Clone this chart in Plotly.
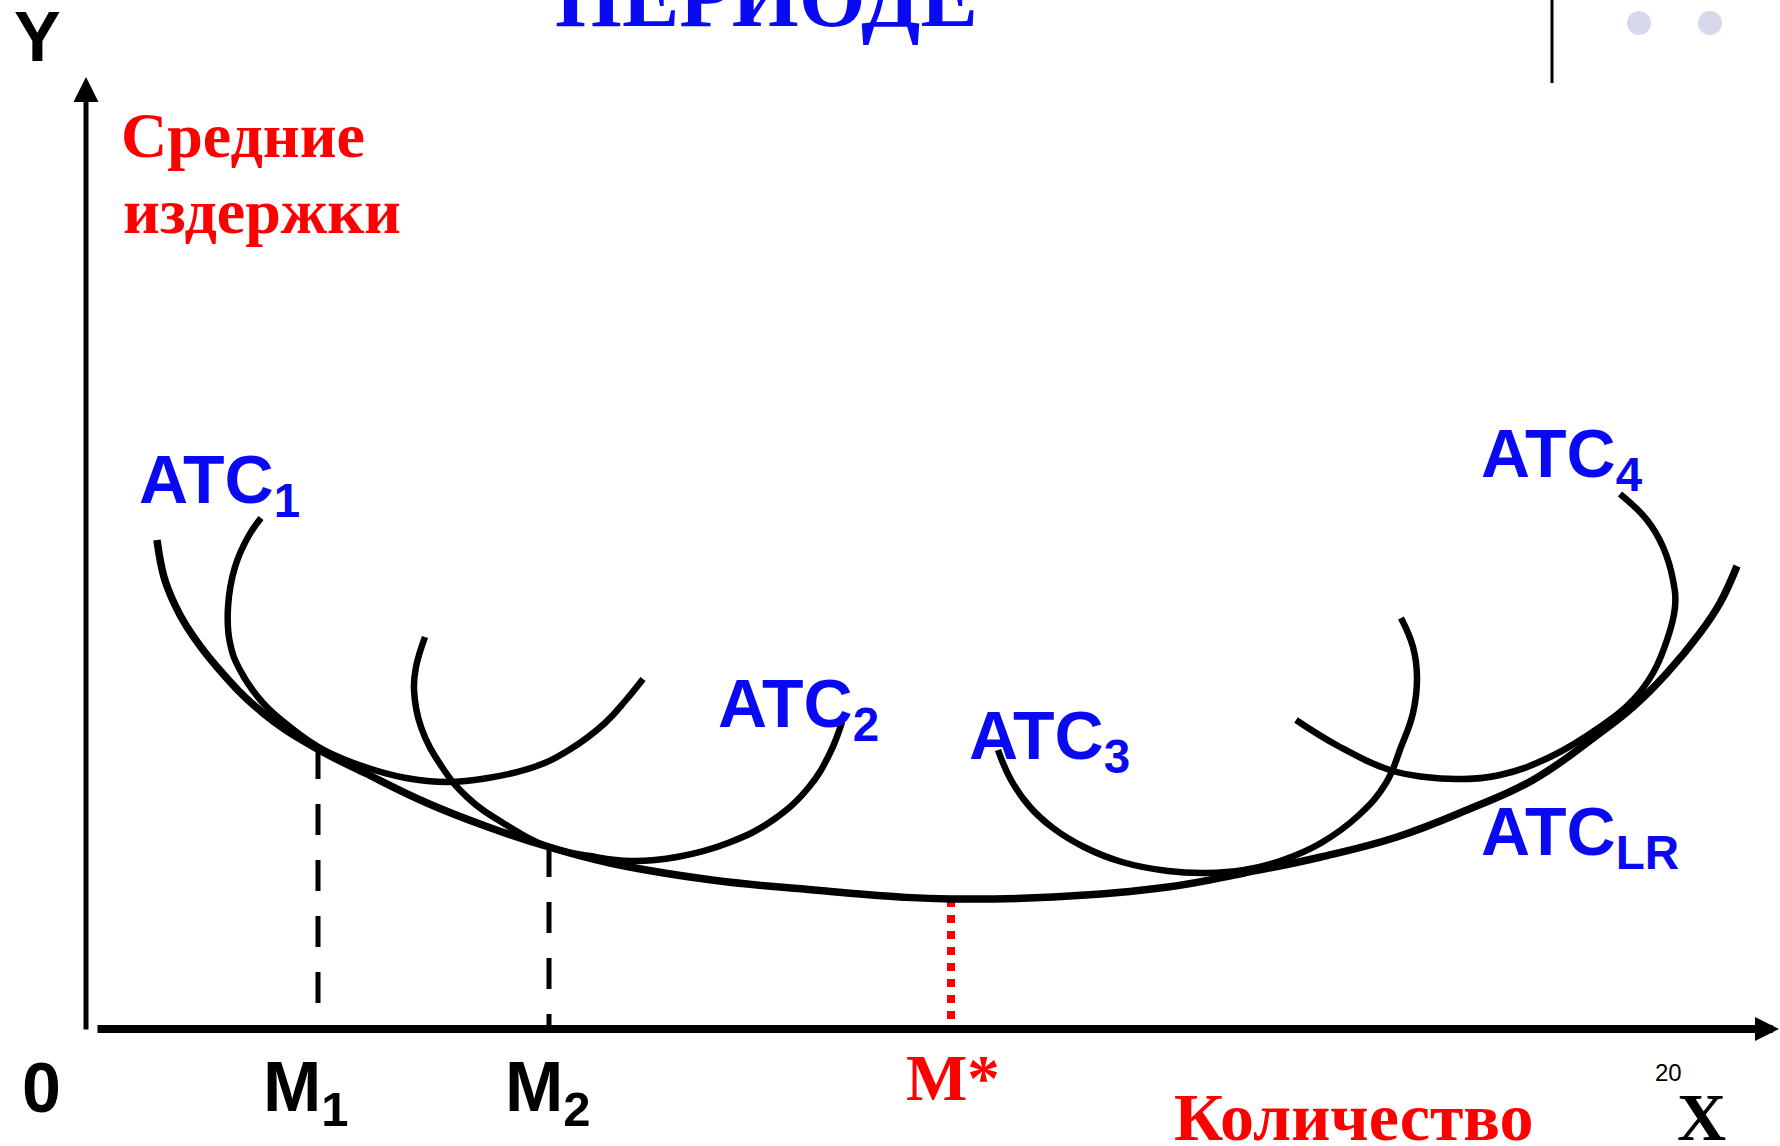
import plotly.graph_objects as go

# ---------------- data (quantity, average cost) in chart units ----------------
# Long-run average total cost (envelope)
lr_q = [71, 78, 88, 101, 131, 177, 228, 279, 341, 402, 463, 524, 626, 728, 814, 865,
        967, 1082, 1158, 1235, 1311, 1381, 1447, 1514, 1547, 1581, 1614, 1634, 1651]
lr_c = [489, 452, 426, 402, 362, 316, 282, 256, 226, 202, 182, 166, 149, 139, 132, 130,
        132, 142, 156, 172, 192, 219, 249, 296, 322, 356, 396, 426, 463]

# Short-run average total cost curves
atc1_q = [175, 162, 149, 142, 144, 154, 177, 208, 238, 279, 320, 361, 402, 448, 483, 519, 540, 557]
atc1_c = [511, 492, 462, 422, 386, 359, 326, 299, 279, 262, 251, 247, 251, 262, 279, 306, 329, 350]

atc2_q = [339, 330, 328, 335, 356, 381, 417, 463, 504, 545, 591, 642, 687, 723, 744, 756]
atc2_c = [392, 362, 339, 302, 262, 232, 206, 182, 173, 168, 172, 186, 209, 242, 276, 307]

atc3_q = [912, 925, 944, 967, 998, 1036, 1082, 1120, 1158, 1197, 1235, 1273, 1300, 1315, 1327, 1331, 1327, 1315]
atc3_c = [279, 249, 222, 201, 182, 167, 158, 156, 159, 169, 186, 214, 246, 282, 316, 352, 382, 411]

atc4_q = [1210, 1254, 1304, 1339, 1374, 1414, 1464, 1514, 1547, 1567, 1581, 1589, 1587, 1577, 1561, 1534]
atc4_c = [309, 282, 259, 252, 250, 254, 272, 302, 329, 356, 389, 422, 449, 482, 509, 535]

# Marked quantities and the cost level where their guide lines stop
m_q = [232, 463, 865]
m_c = [281, 183, 130]
m_labels = ["M<sub>1</sub>", "M<sub>2</sub>", "M*"]

curve_labels = ["ATC<sub>1</sub>", "ATC<sub>2</sub>", "ATC<sub>3</sub>", "ATC<sub>4</sub>", "ATC<sub>LR</sub>"]

# ---------------- styles ----------------
BLUE = "#0A0AF2"
RED = "#FF0000"
BLACK = "#000000"
SANS = "Liberation Sans, Arial, sans-serif"
SERIF = "Liberation Serif, Times New Roman, serif"

X_RANGE = [-86, 1694]
Y_RANGE = [-117, 1029]

fig = go.Figure()


def curve(q, c, width):
    fig.add_trace(go.Scatter(
        x=q, y=c, mode="lines",
        line=dict(color=BLACK, width=width, shape="spline", smoothing=1.2),
        hoverinfo="skip", showlegend=False))


# guide lines from the axis to the curves
guide_styles = [
    dict(color=BLACK, width=5, dash="31px,25px"),
    dict(color=BLACK, width=5, dash="31px,25px"),
    dict(color=RED, width=8, dash="8px,8px"),
]
for mq, mc, st in zip(m_q, m_c, guide_styles):
    fig.add_trace(go.Scatter(x=[mq, mq], y=[mc, 0], mode="lines", line=st,
                             hoverinfo="skip", showlegend=False))

curve(lr_q, lr_c, 7.5)
curve(atc1_q, atc1_c, 6.5)
curve(atc2_q, atc2_c, 6.5)
curve(atc3_q, atc3_c, 6.5)
curve(atc4_q, atc4_c, 6.5)

# slide decoration (top right)
fig.add_trace(go.Scatter(x=[1553, 1624], y=[1006, 1006], mode="markers",
                         marker=dict(size=24, color="#D8D8EC"),
                         hoverinfo="skip", showlegend=False))
fig.add_shape(type="line", x0=1466, x1=1466, y0=1029, y1=946,
              line=dict(color=BLACK, width=3))

annotations = []

# axes with arrows
annotations.append(dict(x=0, y=952, ax=0, ay=-2, xref="x", yref="y", axref="x", ayref="y",
                        text="", showarrow=True, arrowhead=2, arrowwidth=5, arrowsize=1.0,
                        arrowcolor=BLACK, standoff=0))
annotations.append(dict(x=1693, y=0, ax=10, ay=0, xref="x", yref="y", axref="x", ayref="y",
                        text="", showarrow=True, arrowhead=2, arrowwidth=8, arrowsize=0.6,
                        arrowcolor=BLACK, standoff=0))


def label(text, x, y, family, size, color):
    annotations.append(dict(
        text=text, x=x, y=y, xref="x", yref="y", xanchor="left", yanchor="middle",
        showarrow=False, font=dict(family=family, size=size, color=color, weight="bold")))


# curve labels
curve_label_pos = [(51, 545), (630, 321), (881, 289), (1393, 571), (1393, 193)]
for t, (x, y) in zip(curve_labels, curve_label_pos):
    label(t, x, y, SANS, 68, BLUE)

# quantity labels under the axis
label(m_labels[0], 175, -63, SANS, 70, BLACK)
label(m_labels[1], 417, -63, SANS, 70, BLACK)
label(m_labels[2], 818, -49, SERIF, 65, RED)

# axis names
label("Y", -74, 992, SANS, 70, BLACK)
label("0", -66, -59, SANS, 70, BLACK)
label("X", 1589, -88, SERIF, 68, BLACK)
label("Средние", 33, 894, SERIF, 64, RED)
label("издержки", 35, 818, SERIF, 64, RED)
label("Количество", 1086, -88, SERIF, 68, RED)

# slide number
annotations.append(dict(text="20", x=1567, y=-43, xref="x", yref="y", xanchor="left",
                        yanchor="middle", showarrow=False,
                        font=dict(family=SANS, size=24, color=BLACK)))

fig.update_layout(
    width=1780, height=1146, autosize=False,
    margin=dict(l=0, r=0, t=0, b=0, pad=0),
    paper_bgcolor="white", plot_bgcolor="white",
    showlegend=False,
    title=dict(text="ПЕРИОДЕ", x=555 / 1780, xanchor="left", xref="container",
               y=1 - 26 / 1146, yanchor="bottom", yref="container",
               font=dict(family=SERIF, size=86, color=BLUE, weight="bold")),
    xaxis=dict(range=X_RANGE, visible=False, fixedrange=True),
    yaxis=dict(range=Y_RANGE, visible=False, fixedrange=True),
    annotations=annotations,
)

fig.write_html(
    "out.html",
    config={"displayModeBar": False},
    post_script="document.body.style.margin='0';document.body.style.overflow='hidden';",
)
